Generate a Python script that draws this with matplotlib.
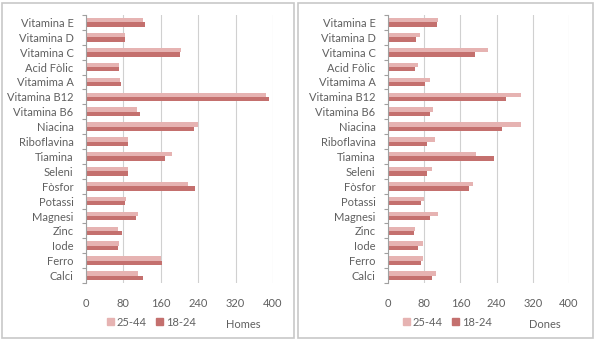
import matplotlib.pyplot as plt
from matplotlib.patches import Rectangle, Patch
import numpy as np

plt.rcParams['font.family'] = ['Lato', 'DejaVu Sans']

nutrients = ['Calci', 'Ferro', 'Iode', 'Zinc', 'Magnesi', 'Potassi', 'Fòsfor', 'Seleni',
             'Tiamina', 'Riboflavina', 'Niacina', 'Vitamina B6', 'Vitamina B12',
             'Vitamima A', 'Acid Fòlic', 'Vitamina C', 'Vitamina D', 'Vitamina E']

# Homes
homes_25_44 = [111, 160, 70, 69, 112, 85, 219, 89, 184, 89, 240, 109, 385, 73, 71, 204, 84, 121]
homes_18_24 = [122, 163, 68, 76, 106, 84, 233, 89, 169, 89, 231, 115, 391, 74, 71, 200, 84, 126]

# Dones
dones_25_44 = [107, 77, 77, 59, 110, 80, 187, 97, 194, 103, 293, 100, 294, 92, 66, 221, 70, 110]
dones_18_24 = [98, 73, 66, 57, 92, 74, 178, 86, 235, 87, 253, 92, 261, 82, 59, 192, 61, 109]

xticks = [0, 80, 160, 240, 320, 400]
light = '#E6B3B2'
dark = '#C4706E'
grey_txt = '#606060'

W, H = 600, 341
fig = plt.figure(figsize=(6, 3.41), dpi=100)


def panel(x0, x1, s1, s2, title, fx0, fx1, leg_x, title_x):
    # outer frame
    fig.patches.append(Rectangle((fx0 / W, 1 - 338 / H), (fx1 - fx0) / W, 335 / H,
                                 transform=fig.transFigure, fill=False,
                                 edgecolor='#c8c8c8', linewidth=1.2))
    ax = fig.add_axes([x0 / W, 1 - 283 / H, (x1 - x0) / W, 268 / H])
    y = np.arange(len(nutrients))
    h = 0.29
    ax.barh(y + h / 2, s1, height=h, color=light)
    ax.barh(y - h / 2, s2, height=h, color=dark)
    ax.set_xlim(0, 400)
    ax.set_ylim(-0.5, len(nutrients) - 0.5)
    ax.set_xticks(xticks)
    ax.set_yticks(y)
    ax.set_yticklabels(nutrients)
    ax.set_yticks(np.arange(len(nutrients) + 1) - 0.5, minor=True)
    ax.tick_params(axis='y', which='major', length=0, labelsize=8, labelcolor=grey_txt, pad=9)
    ax.tick_params(axis='y', which='minor', length=3, color='#a0a0a0', width=0.8)
    ax.tick_params(axis='x', length=0, labelsize=8, labelcolor=grey_txt, pad=11)
    ax.grid(axis='x', color='#d0d0d0', linewidth=0.8)
    ax.set_axisbelow(True)
    for s in ['top', 'right', 'bottom']:
        ax.spines[s].set_visible(False)
    ax.spines['left'].set_color('#a0a0a0')
    ax.spines['left'].set_linewidth(0.8)
    handles = [Patch(color=light, label='25-44'), Patch(color=dark, label='18-24')]
    fig.legend(handles=handles, loc='center left', bbox_to_anchor=(leg_x / W, 1 - 322 / H),
               ncol=2, frameon=False, fontsize=8, handlelength=0.6, handleheight=0.6,
               handletextpad=0.3, columnspacing=0.8, labelcolor=grey_txt,
               borderaxespad=0, borderpad=0)
    fig.text(title_x / W, 1 - 325 / H, title, ha='center', va='center',
             fontsize=8, color=grey_txt)


panel(86, 273, homes_25_44, homes_18_24, 'Homes', 2, 294, 107, 243)
panel(388, 569, dones_25_44, dones_18_24, 'Dones', 298, 593, 403, 545)

plt.savefig('out.png', dpi=100)
